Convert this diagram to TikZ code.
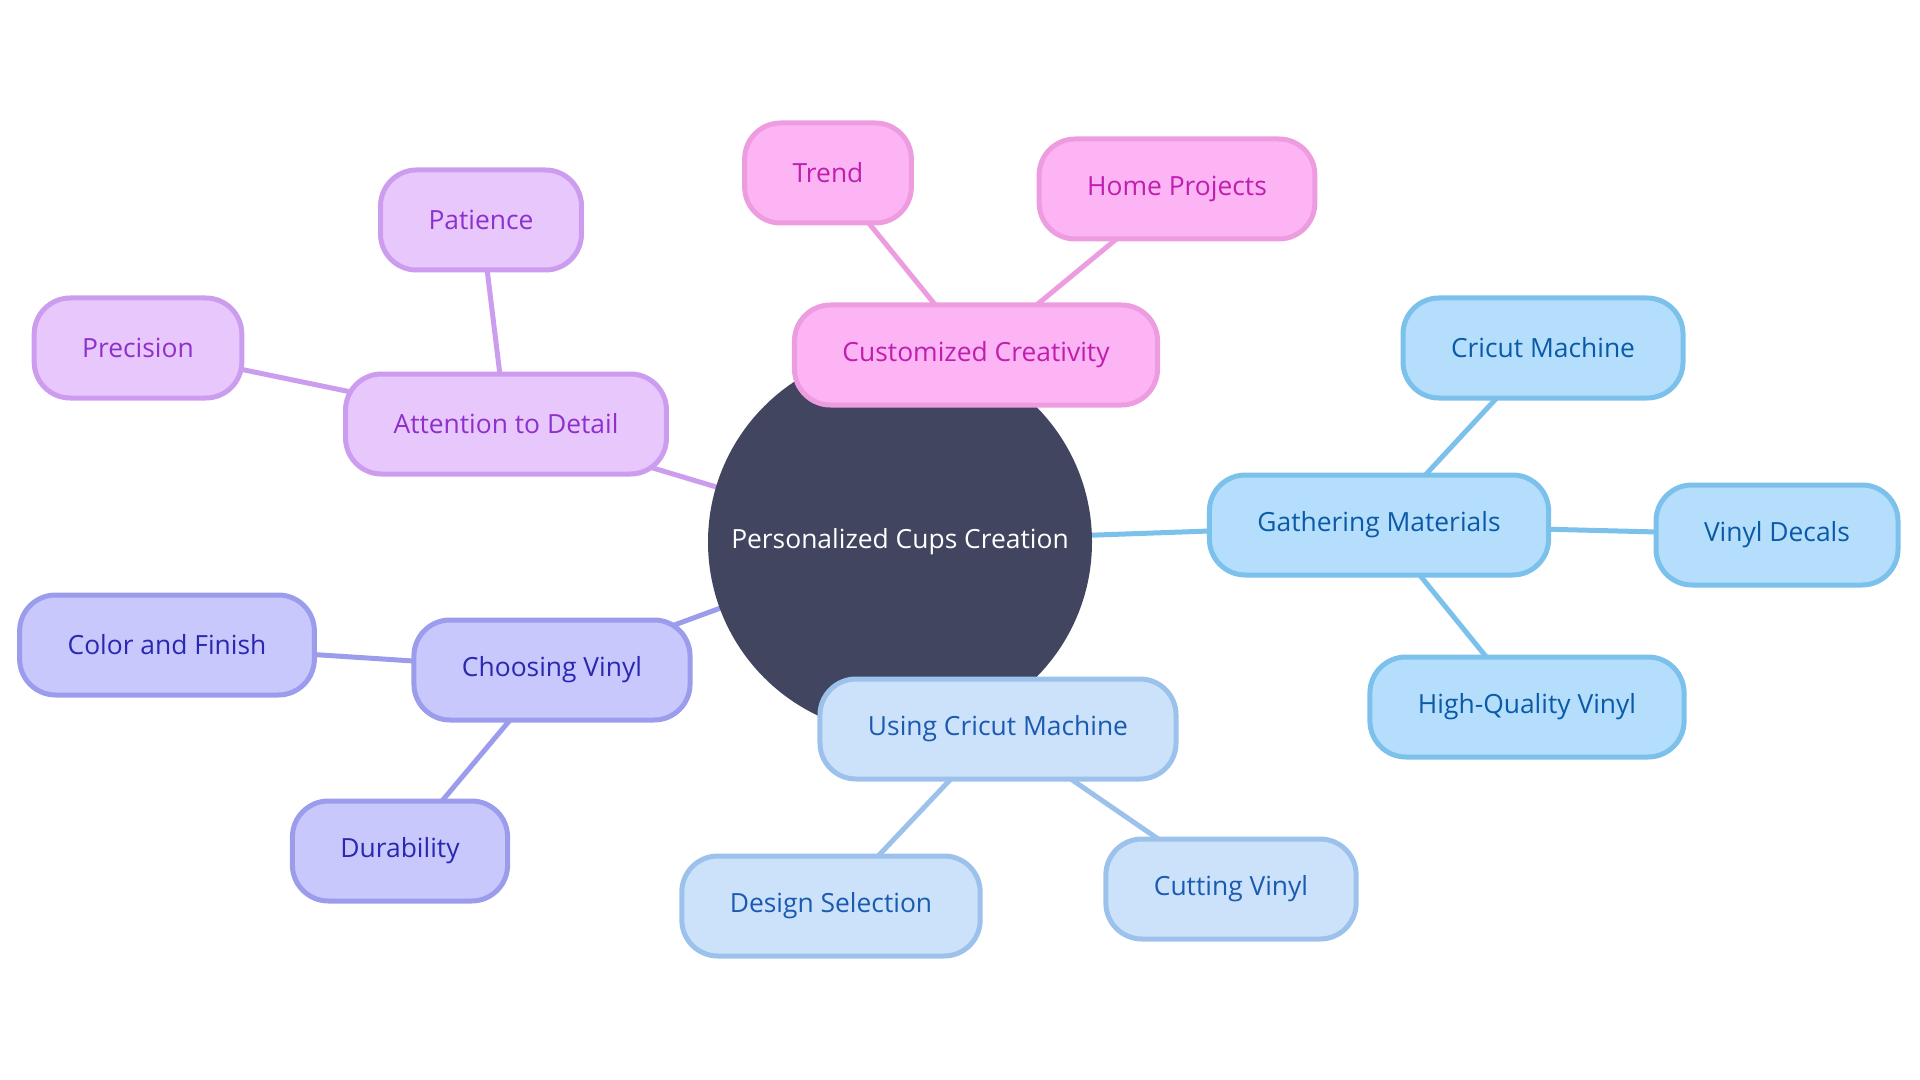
\documentclass[tikz,border=0pt]{standalone}
\usepackage{fontspec}
\setmainfont{Open Sans}
\usetikzlibrary{positioning}

\definecolor{hubfill}{HTML}{414560}
\definecolor{pinkfill}{HTML}{FCB4F4}
\definecolor{pinkline}{HTML}{EE9CE0}
\definecolor{pinktext}{HTML}{C01EAE}
\definecolor{lilacfill}{HTML}{E8C8FC}
\definecolor{lilacline}{HTML}{CC9CEE}
\definecolor{lilactext}{HTML}{8E30CC}
\definecolor{indigofill}{HTML}{C8C8FC}
\definecolor{indigoline}{HTML}{9C9CEC}
\definecolor{indigotext}{HTML}{2A28B0}
\definecolor{skyfill}{HTML}{B4DEFC}
\definecolor{skyline}{HTML}{7CC0EC}
\definecolor{skytext}{HTML}{0A5AA8}
\definecolor{palefill}{HTML}{CCE2FA}
\definecolor{paleline}{HTML}{9CC2EC}
\definecolor{paletext}{HTML}{1A5AB0}

\pgfdeclarelayer{background}
\pgfsetlayers{background,main}

\begin{document}
\begin{tikzpicture}[x=0.5pt,y=-0.5pt,
  font=\fontsize{13.2}{16}\selectfont,
  topic/.style={draw,line width=2.5pt,rounded corners=18pt,minimum height=50pt,inner xsep=24pt,inner ysep=0pt},
  pinkbox/.style={topic,fill=pinkfill,draw=pinkline,text=pinktext},
  lilacbox/.style={topic,fill=lilacfill,draw=lilacline,text=lilactext},
  indigobox/.style={topic,fill=indigofill,draw=indigoline,text=indigotext},
  skybox/.style={topic,fill=skyfill,draw=skyline,text=skytext},
  palebox/.style={topic,fill=palefill,draw=paleline,text=paletext},
  link/.style={line width=2.5pt}]
\useasboundingbox (0,0) rectangle (1920,1080);

% Central hub
\node[circle,fill=hubfill,text=white,minimum size=192pt,inner sep=0pt] (hub) at (900,542) {Personalized Cups Creation};

% Customized creativity branch
\node[pinkbox] (creativity) at (976,355) {Customized Creativity};
\node[pinkbox] (trend) at (828,173) {Trend};
\node[pinkbox] (home) at (1177,189) {Home Projects};

% Attention to detail branch
\node[lilacbox] (detail) at (506,424) {Attention to Detail};
\node[lilacbox] (patience) at (481,220) {Patience};
\node[lilacbox] (precision) at (138,348) {Precision};

% Gathering materials branch
\node[skybox] (materials) at (1379,525) {Gathering Materials};
\node[skybox] (machine) at (1543,348) {Cricut Machine};
\node[skybox] (decals) at (1777,535) {Vinyl Decals};
\node[skybox] (quality) at (1527,707) {High-Quality Vinyl};

% Using cricut machine branch
\node[palebox] (using) at (998,729) {Using Cricut Machine};
\node[palebox] (design) at (831,906) {Design Selection};
\node[palebox] (cutting) at (1231,889) {Cutting Vinyl};

% Choosing vinyl branch
\node[indigobox] (choosing) at (552,670) {Choosing Vinyl};
\node[indigobox] (finish) at (167,645) {Color and Finish};
\node[indigobox] (durability) at (400,851) {Durability};

% Connectors, centre to centre behind the nodes
\begin{pgfonlayer}{background}
\draw[link,pinkline] (hub.center) -- (creativity.center);
\draw[link,pinkline] (creativity.center) -- (trend.center);
\draw[link,pinkline] (creativity.center) -- (home.center);
\draw[link,lilacline] (hub.center) -- (detail.center);
\draw[link,lilacline] (detail.center) -- (patience.center);
\draw[link,lilacline] (detail.center) -- (precision.center);
\draw[link,skyline] (hub.center) -- (materials.center);
\draw[link,skyline] (materials.center) -- (machine.center);
\draw[link,skyline] (materials.center) -- (decals.center);
\draw[link,skyline] (materials.center) -- (quality.center);
\draw[link,paleline] (hub.center) -- (using.center);
\draw[link,paleline] (using.center) -- (design.center);
\draw[link,paleline] (using.center) -- (cutting.center);
\draw[link,indigoline] (hub.center) -- (choosing.center);
\draw[link,indigoline] (choosing.center) -- (finish.center);
\draw[link,indigoline] (choosing.center) -- (durability.center);
\end{pgfonlayer}
\end{tikzpicture}
\end{document}
